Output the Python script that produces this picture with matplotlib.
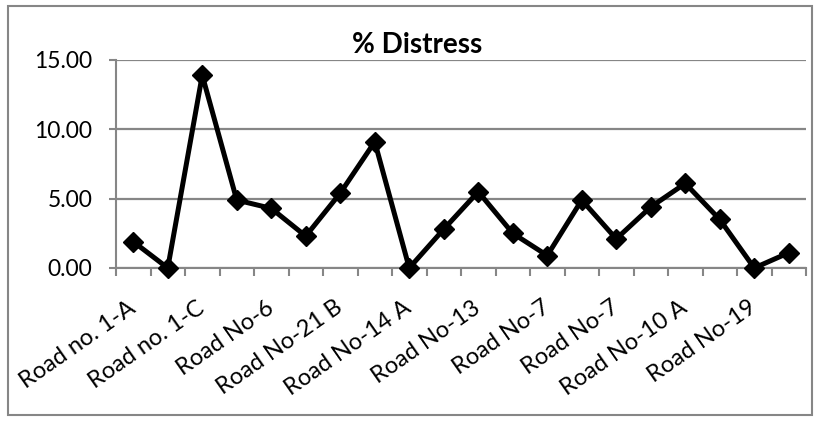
import matplotlib.pyplot as plt
import numpy as np
from matplotlib.patches import Rectangle

plt.rcParams['font.family'] = ['Lato', 'DejaVu Sans']

# 20 roads, only every other one is labelled in the original chart
labels = ['Road no. 1-A', '', 'Road no. 1-C', '', 'Road No-6', '',
          'Road No-21 B', '', 'Road No-14 A', '', 'Road No-13', '',
          'Road No-7', '', 'Road No-7', '', 'Road No-10 A', '',
          'Road No-19', '']
distress = [1.9, 0.0, 13.9, 4.9, 4.3, 2.3, 5.4, 9.1, 0.0, 2.8,
            5.5, 2.5, 0.9, 4.9, 2.1, 4.4, 6.1, 3.5, 0.0, 1.1]

grey = '#868686'

fig = plt.figure(figsize=(8.15, 4.21), dpi=100)
fig.patches.append(Rectangle((8/815, 6/421), 804/815, 409/421, transform=fig.transFigure,
                             fill=False, edgecolor=grey, linewidth=1.5))

ax = fig.add_axes([116/815, 1 - 268/421, 690/815, 208/421])
x = np.arange(len(distress))
ax.plot(x, distress, color='black', linewidth=3.6, marker='D', markersize=10,
        clip_on=False, zorder=3)

ax.set_xlim(-0.5, len(distress) - 0.5)
ax.set_ylim(0, 15)
ax.set_yticks([0, 5, 10, 15])
ax.set_yticklabels(['%.2f' % v for v in [0, 5, 10, 15]], fontsize=16.5)
ax.yaxis.grid(True, color=grey, linewidth=1.6)
ax.set_axisbelow(True)

ax.set_xticks(x)
ax.set_xticklabels(labels, fontsize=17, rotation=35, ha='right',
                   va='center', rotation_mode='anchor')
ax.set_xticks(np.arange(len(distress) + 1) - 0.5, minor=True)
ax.tick_params(axis='x', which='major', length=0, pad=27)
ax.tick_params(axis='x', which='minor', length=6, width=1.5, color=grey)
ax.tick_params(axis='y', length=5, width=1.5, color=grey, pad=12)

for s in ['top', 'right']:
    ax.spines[s].set_visible(False)
for s in ['left', 'bottom']:
    ax.spines[s].set_color(grey)
    ax.spines[s].set_linewidth(1.5)

fig.text(417/815, 1 - 45/421, '% Distress', ha='center', va='center',
         fontsize=20, fontweight='bold')

fig.savefig('out.png', dpi=100)
